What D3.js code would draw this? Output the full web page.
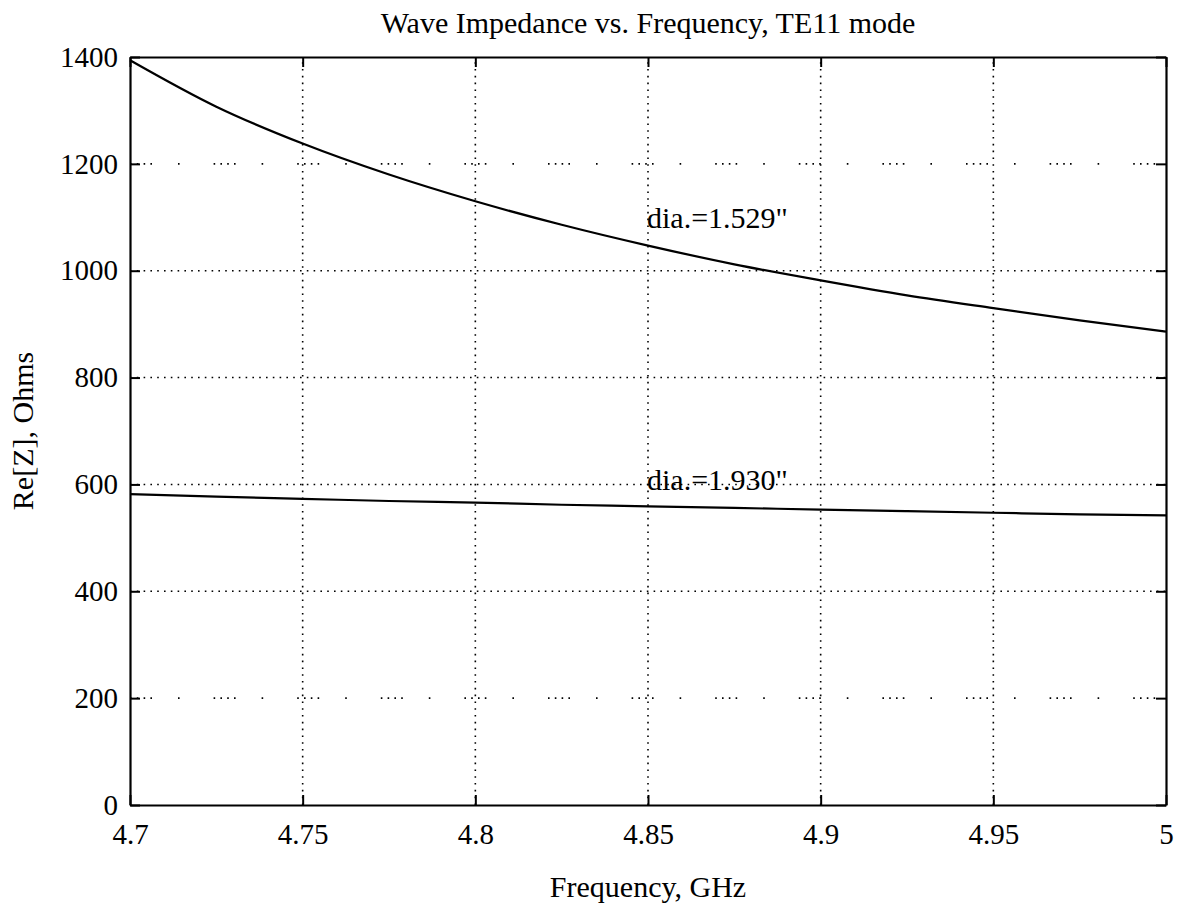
<!DOCTYPE html>
<html>
<head>
<meta charset="utf-8">
<script src="https://cdn.jsdelivr.net/npm/d3@7"></script>
<style>
  html, body { margin: 0; padding: 0; background: #fff; }
  svg text { font-family: "Liberation Serif", "Times New Roman", serif; fill: #000; }
</style>
</head>
<body>
<svg id="chart" width="1182" height="909"></svg>
<script>
// ---- data ----
const freq = [4.70, 4.725, 4.75, 4.775, 4.80, 4.825, 4.85, 4.875, 4.90, 4.925, 4.95, 4.975, 5.00];
const zDia1529 = [1394, 1307, 1238, 1180, 1130, 1086, 1047, 1012, 982, 954, 930, 907, 886];
const zDia1930 = [582, 577, 573, 569, 566, 562, 559, 556, 553, 550, 547, 544, 542];
const xTicks = [4.7, 4.75, 4.8, 4.85, 4.9, 4.95, 5];
const xTickLabels = ["4.7", "4.75", "4.8", "4.85", "4.9", "4.95", "5"];
const yTicks = [0, 200, 400, 600, 800, 1000, 1200, 1400];
const seriesLabels = ['dia.=1.529"', 'dia.=1.930"'];
const labelAt = [[4.85, 1080], [4.85, 590]];
const title = "Wave Impedance vs. Frequency, TE11 mode";
const xTitle = "Frequency, GHz";
const yTitle = "Re[Z], Ohms";

// ---- layout ----
const svg = d3.select("#chart");
const L = 130, R = 1166, T = 57, B = 805;
const x = d3.scaleLinear().domain([4.7, 5]).range([L, R]);
const y = d3.scaleLinear().domain([0, 1400]).range([B, T]);

// grid (dotted; the 1200 and 200 lines are faint/sparse in the scan)
const grid = svg.append("g").attr("stroke", "#000").attr("stroke-width", 1.6).attr("fill", "none");
xTicks.slice(1, -1).forEach(v => {
  grid.append("line").attr("x1", x(v)).attr("x2", x(v)).attr("y1", B).attr("y2", T)
    .attr("stroke-dasharray", "1.6,5.2");
});
yTicks.slice(1, -1).forEach(v => {
  const sparse = (v === 1200 || v === 200);
  grid.append("line").attr("x1", L).attr("x2", R).attr("y1", y(v)).attr("y2", y(v))
    .attr("stroke-dasharray", sparse ? "1.6,5.2,1.6,5.2,1.6,5.2,1.6,26,1.6,34" : "1.6,5.2");
});

// axes (box with inward ticks)
const tickFont = 29;
const xAxis = svg.append("g").attr("transform", `translate(0,${B})`)
  .call(d3.axisBottom(x).tickValues(xTicks).tickFormat((d, i) => xTickLabels[i]).tickSizeInner(-10).tickSizeOuter(0).tickPadding(18));
const xAxisTop = svg.append("g").attr("transform", `translate(0,${T})`)
  .call(d3.axisTop(x).tickValues(xTicks).tickFormat("").tickSizeInner(-10).tickSizeOuter(0));
const yAxis = svg.append("g").attr("transform", `translate(${L},0)`)
  .call(d3.axisLeft(y).tickValues(yTicks).tickFormat(d3.format("d")).tickSizeInner(-10).tickSizeOuter(0).tickPadding(12));
const yAxisR = svg.append("g").attr("transform", `translate(${R},0)`)
  .call(d3.axisRight(y).tickValues(yTicks).tickFormat("").tickSizeInner(-10).tickSizeOuter(0));
[xAxis, xAxisTop, yAxis, yAxisR].forEach(g => {
  g.selectAll(".domain").attr("stroke", "#000").attr("stroke-width", 2.2);
  g.selectAll(".tick line").attr("stroke", "#000").attr("stroke-width", 2);
  g.selectAll("text").attr("font-family", '"Liberation Serif", serif').attr("font-size", tickFont).attr("fill", "#000");
});

// lines
const line = d3.line().x((d, i) => x(freq[i])).y(d => y(d)).curve(d3.curveMonotoneX);
[zDia1529, zDia1930].forEach(s => {
  svg.append("path").datum(s).attr("d", line).attr("fill", "none")
    .attr("stroke", "#000").attr("stroke-width", 2.2);
});

// series labels
seriesLabels.forEach((t, i) => {
  svg.append("text").attr("x", x(labelAt[i][0]) - 1).attr("y", y(labelAt[i][1]))
    .attr("font-size", 30).text(t);
});

// titles
svg.append("text").attr("x", (L + R) / 2).attr("y", 33).attr("text-anchor", "middle")
  .attr("font-size", 30).text(title);
svg.append("text").attr("x", (L + R) / 2).attr("y", 897).attr("text-anchor", "middle")
  .attr("font-size", 30).text(xTitle);
svg.append("text").attr("transform", `translate(33,${(T + B) / 2}) rotate(-90)`)
  .attr("text-anchor", "middle").attr("font-size", 30).text(yTitle);
</script>
</body>
</html>
